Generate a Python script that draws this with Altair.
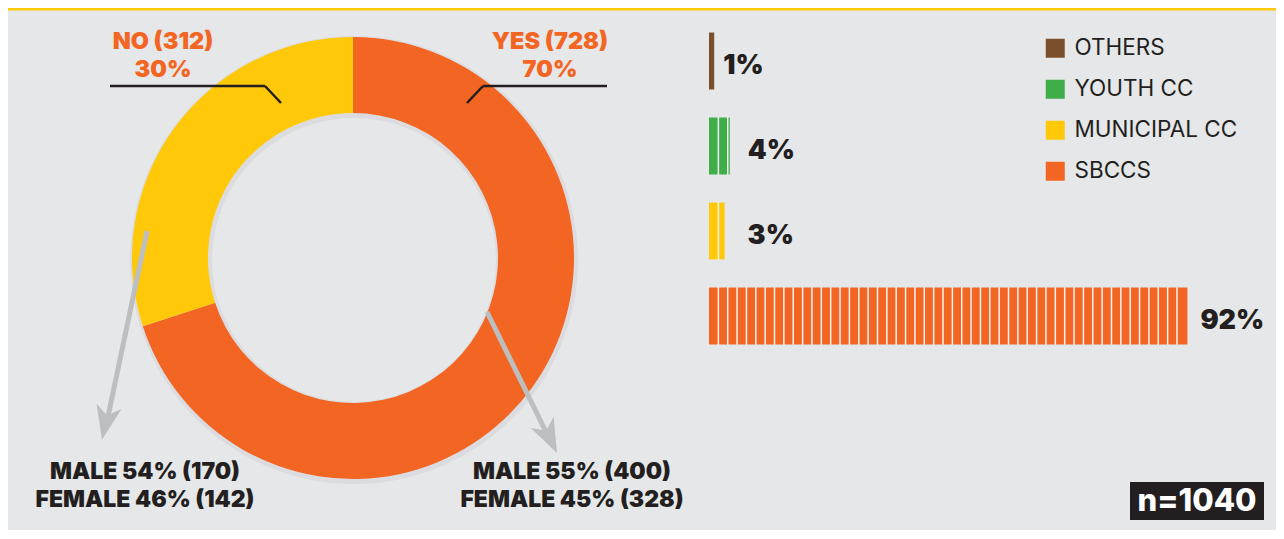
import altair as alt
import pandas as pd
import numpy as np

# ---------------- data ----------------
responses = ["YES", "NO"]
response_counts = [728, 312]
total_n = 1040

gender_yes = [("MALE", 55, 400), ("FEMALE", 45, 328)]
gender_no = [("MALE", 54, 170), ("FEMALE", 46, 142)]

channels = ["OTHERS", "YOUTH CC", "MUNICIPAL CC", "SBCCS"]
channel_share = [1, 4, 3, 92]

# ---------------- styles ----------------
BG = "#e6e7e8"
ORANGE = "#f26522"
YELLOW = "#ffc90a"
GREEN = "#3fae49"
BROWN = "#7b4f2c"
DARK = "#231f20"
ARROW = "#bcbec0"
FONT = "Inter"
W, H = 1268, 522
LABEL_DX = [9, 18, 23, 13]

one = pd.DataFrame({"k": [0]})


def txt(s, x, y, size, color, weight=900, align="center", font=FONT):
    return alt.Chart(one).mark_text(
        text=s, fontSize=size, fontWeight=weight, color=color, align=align,
        baseline="middle", font=font
    ).encode(x=alt.value(x), y=alt.value(y))


def seg(x, y, x2, y2, color, width):
    return alt.Chart(one).mark_rule(color=color, strokeWidth=width, strokeCap="butt").encode(
        x=alt.value(x), y=alt.value(y), x2=alt.value(x2), y2=alt.value(y2)
    )


HEAD = "M0,1L-0.75,-1L0,-0.45L0.75,-1Z"


def head(x, y, angle):
    return alt.Chart(one).mark_point(
        shape=HEAD, size=1156, filled=True, color=ARROW, opacity=1, angle=angle, strokeWidth=0
    ).encode(x=alt.value(x), y=alt.value(y))


# ---------------- donut ----------------
CX, CY = 345, 250
donut_df = pd.DataFrame({"response": responses, "count": response_counts, "order": [0, 1]})

halo = alt.Chart(one).mark_arc(
    outerRadius=224, innerRadius=142, theta=0, theta2=2 * np.pi, color="#d9dadd", opacity=0.8
).encode(x=alt.value(CX + 1), y=alt.value(CY + 2))

donut = alt.Chart(donut_df).mark_arc(outerRadius=221, innerRadius=145).encode(
    theta=alt.Theta("count:Q", stack=True),
    order=alt.Order("order:Q"),
    color=alt.Color("response:N", scale=alt.Scale(domain=responses, range=[ORANGE, YELLOW]), legend=None),
    x=alt.value(CX),
    y=alt.value(CY),
)

pct = [round(c / total_n * 100) for c in response_counts]
yes_lbl = txt(f"{responses[0]} ({response_counts[0]})", 542, 34, 23.5, ORANGE)
yes_pct = txt(f"{pct[0]}%", 542, 62, 23.5, ORANGE)
no_lbl = txt(f"{responses[1]} ({response_counts[1]})", 155, 34, 23.5, ORANGE)
no_pct = txt(f"{pct[1]}%", 155, 62, 23.5, ORANGE)

leaders = [
    seg(459, 95, 475, 78, DARK, 2.5), seg(475, 78, 599, 78, DARK, 2.5),
    seg(273, 95, 257, 78, DARK, 2.5), seg(257, 78, 102, 78, DARK, 2.5),
]

arrows = [
    seg(139, 223, 98, 418, ARROW, 5), head(97.5, 415, 12),
    seg(479, 304, 540, 428, ARROW, 5), head(541.6, 429.7, 334),
]

g_no = [txt(f"{g} {p}% ({c})", 137, 464 + 28 * i, 23, DARK) for i, (g, p, c) in enumerate(gender_no)]
g_yes = [txt(f"{g} {p}% ({c})", 564, 464 + 28 * i, 23, DARK) for i, (g, p, c) in enumerate(gender_yes)]

# ---------------- bars ----------------
bar_df = pd.DataFrame({"channel": channels, "share": channel_share,
                       "label": [f"{v}%" for v in channel_share]})
xs = alt.Scale(domain=[0, 100], range=[701, 1221])
ys = alt.Scale(domain=channels, range=[10.5, 350.5], paddingInner=0.33, paddingOuter=0.165)

stripe_rows = []
for ch, v in zip(channels, channel_share):
    for p in np.arange(1.8, v - 0.3, 1.8):
        stripe_rows.append({"channel": ch, "pos": float(p)})
stripe_df = pd.DataFrame(stripe_rows)

bars = alt.Chart(bar_df).mark_bar().encode(
    x=alt.X("share:Q", scale=xs, axis=None),
    y=alt.Y("channel:N", scale=ys, axis=None),
    color=alt.Color(
        "channel:N",
        scale=alt.Scale(domain=channels, range=[BROWN, GREEN, YELLOW, ORANGE]),
        legend=alt.Legend(
            title=None, orient="none", legendX=1036, legendY=29, symbolType="square",
            symbolSize=361, symbolStrokeWidth=0, symbolOpacity=1, labelFontSize=22.5,
            labelFont=FONT, labelFontWeight=400, labelColor=DARK, labelOffset=8,
            labelLimit=400, rowPadding=18, padding=0,
        ),
    ),
)
stripes = alt.Chart(stripe_df).mark_tick(orient="vertical", size=58, thickness=1.5, color="#f4f4f4", opacity=1).encode(
    x=alt.X("pos:Q", scale=xs, axis=None),
    y=alt.Y("channel:N", scale=ys, axis=None),
)
bar_lbls = [
    alt.Chart(bar_df).transform_filter(alt.datum.channel == ch).mark_text(
        align="left", baseline="middle", dx=dx, dy=5, fontSize=27, fontWeight=900, font=FONT, color=DARK
    ).encode(
        x=alt.X("share:Q", scale=xs, axis=None),
        y=alt.Y("channel:N", scale=ys, axis=None),
        text="label:N",
    )
    for ch, dx in zip(channels, LABEL_DX)
]
bar_group = alt.layer(bars, stripes, *bar_lbls)

# ---------------- n box ----------------
nbox = alt.Chart(one).mark_rect(color=DARK).encode(
    x=alt.value(1122), x2=alt.value(1256), y=alt.value(474), y2=alt.value(512)
)
ntext = txt(f"n={total_n}", 1189, 494, 31, "white", weight=800)

topline = seg(0, 1, W, 1, YELLOW, 3)

chart = alt.layer(
    topline, halo, donut, yes_lbl, yes_pct, no_lbl, no_pct, *leaders, *arrows, *g_no, *g_yes,
    bar_group, nbox, ntext
).resolve_scale(
    x="independent", y="independent", color="independent", theta="independent"
).properties(
    width=W, height=H, background=BG, padding=0, autosize="none"
).configure_view(stroke=None)

chart.save("out.html", embed_options={"renderer": "svg", "actions": False})
